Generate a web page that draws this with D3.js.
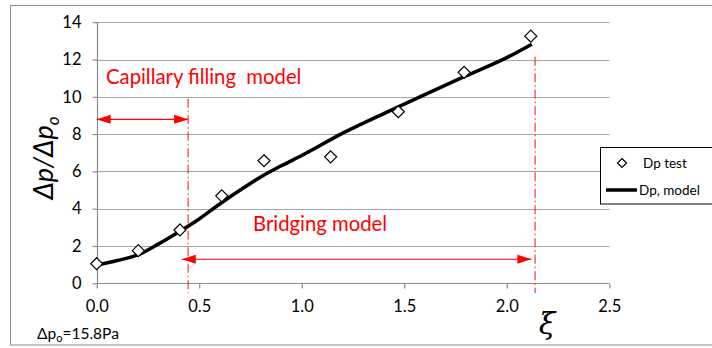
<!DOCTYPE html>
<html><head><meta charset="utf-8">
<script src="https://cdn.jsdelivr.net/npm/d3@7"></script>
<style>
html,body{margin:0;padding:0;background:#fff;}
svg{display:block;}
text{font-family:Lato,"Open Sans",sans-serif;}
</style>
</head><body>
<svg id="chart" width="712" height="348"></svg>
<script>
// ---- data ----
const testXi    = [0.0, 0.203, 0.406, 0.61, 0.816, 1.141, 1.471, 1.792, 2.117];
const testDp    = [1.05, 1.75, 2.86, 4.69, 6.57, 6.78, 9.2, 11.31, 13.25];
const modelXi   = [0.0, 0.1, 0.2, 0.3, 0.4, 0.5, 0.6, 0.7, 0.8, 0.9, 1.0, 1.2, 1.4, 1.6, 1.8, 2.0, 2.122];
const modelDp   = [0.98, 1.22, 1.52, 2.1, 2.75, 3.45, 4.25, 5.0, 5.7, 6.3, 6.85, 8.05, 9.1, 10.12, 11.12, 12.1, 12.82];
const xTicks    = [0.0, 0.5, 1.0, 1.5, 2.0, 2.5];
const yTicks    = [0, 2, 4, 6, 8, 10, 12, 14];
const legendLabels = ["Dp test", "Dp, model"];
// annotation: region boundaries (xi) and arrow levels
const boundaryXi   = [0.446, 2.138];
const boundaryTop  = [9.9, 12.15];
const capArrow     = {from: 0.0, to: 0.446, level: 8.79};
const bridgeArrow  = {from: 0.415, to: 2.12, level: 1.29};
const capLabel     = "Capillary filling  model";
const bridgeLabel  = "Bridging model";
const refNote      = "Δp";

// ---- layout ----
const svg = d3.select("#chart");
const x = d3.scaleLinear().domain([0, 2.5]).range([96.7, 609.3]);
const y = d3.scaleLinear().domain([0, 14]).range([283.3, 22.2]);

// outer border
svg.append("rect").attr("x", 10.5).attr("y", 5.5).attr("width", 760).attr("height", 339.5)
  .attr("fill", "none").attr("stroke", "#8c8c8c").attr("stroke-width", 1);

// gridlines
svg.append("g").selectAll("line").data(yTicks.filter(d => d > 0)).join("line")
  .attr("x1", x(0)).attr("x2", x(2.5))
  .attr("y1", d => Math.round(y(d)) + 0.5).attr("y2", d => Math.round(y(d)) + 0.5)
  .attr("stroke", "#a5a5a5").attr("stroke-width", 1.2);

// axes
const yAxis = d3.axisLeft(y).tickValues(yTicks).tickSize(5).tickPadding(11).tickFormat(d3.format("d"));
const gy = svg.append("g").attr("transform", `translate(${Math.round(x(0)) + 0.5},0)`).call(yAxis);
const xAxis = d3.axisBottom(x).tickValues(xTicks).tickSize(5).tickPadding(12).tickFormat(d3.format(".1f"));
const gx = svg.append("g").attr("transform", `translate(0,${Math.round(y(0)) + 0.5})`).call(xAxis);
[gx, gy].forEach(g => {
  g.select(".domain").attr("stroke", "#8c8c8c").attr("stroke-width", 1.2);
  g.selectAll(".tick line").attr("stroke", "#8c8c8c").attr("stroke-width", 1.2);
  g.selectAll(".tick text").attr("fill", "#000").style("font-size", "16.5px").style("font-family", "Lato, sans-serif");
});
gx.select(".domain").attr("d", `M${x(0)},0H${x(2.5)}`);
gy.select(".domain").attr("d", `M0,${y(14)}V${y(0)}`);

// red boundaries
svg.append("g").selectAll("line").data(boundaryXi).join("line")
  .attr("x1", d => x(d)).attr("x2", d => x(d))
  .attr("y1", (d, i) => y(boundaryTop[i])).attr("y2", y(-0.52))
  .attr("stroke", "#ff2020").attr("stroke-width", 1.1)
  .attr("stroke-dasharray", "9,3,1.5,3");

// arrow markers
const defs = svg.append("defs");
defs.append("marker").attr("id", "ah").attr("viewBox", "0 0 14 10")
  .attr("refX", 14).attr("refY", 5).attr("markerWidth", 14).attr("markerHeight", 10)
  .attr("markerUnits", "userSpaceOnUse").attr("orient", "auto-start-reverse")
  .append("path").attr("d", "M0,0.5 L14,5 L0,9.5 Z").attr("fill", "#ff0000");

[capArrow, bridgeArrow].forEach(a => {
  svg.append("line")
    .attr("x1", x(a.from)).attr("x2", x(a.to)).attr("y1", y(a.level)).attr("y2", y(a.level))
    .attr("stroke", "#ff0000").attr("stroke-width", 1.2)
    .attr("marker-start", "url(#ah)").attr("marker-end", "url(#ah)");
});

// annotation texts
svg.append("text").attr("x", 106).attr("y", 84).attr("fill", "#ff0000")
  .style("font-size", "20.3px").style("white-space", "pre").text(capLabel);
svg.append("text").attr("x", 253).attr("y", 231).attr("fill", "#ff0000")
  .style("font-size", "20.3px").text(bridgeLabel);

// model line
const model = modelXi.map((v, i) => [v, modelDp[i]]);
svg.append("path").datum(model)
  .attr("d", d3.line().x(d => x(d[0])).y(d => y(d[1])).curve(d3.curveMonotoneX))
  .attr("fill", "none").attr("stroke", "#000").attr("stroke-width", 3.5)
  .attr("stroke-linejoin", "round");

// test points
const diamond = "M0,-6L6,0L0,6L-6,0Z";
svg.append("g").selectAll("path").data(testXi.map((v, i) => [v, testDp[i]])).join("path")
  .attr("d", diamond)
  .attr("transform", d => `translate(${x(d[0])},${y(d[1])})`)
  .attr("fill", "#fff").attr("stroke", "#000").attr("stroke-width", 1.2);

// legend
const lg = svg.append("g");
lg.append("rect").attr("x", 600.5).attr("y", 147.5).attr("width", 140).attr("height", 56.5)
  .attr("fill", "#fff").attr("stroke", "#000").attr("stroke-width", 1);
lg.append("path").attr("d", "M0,-4.5L4.5,0L0,4.5L-4.5,0Z")
  .attr("transform", "translate(622,163)").attr("fill", "#fff").attr("stroke", "#000").attr("stroke-width", 1.2);
lg.append("line").attr("x1", 606).attr("x2", 637).attr("y1", 190).attr("y2", 190)
  .attr("stroke", "#000").attr("stroke-width", 3.5);
lg.append("text").attr("x", 643).attr("y", 168).style("font-size", "13.5px").text(legendLabels[0]);
lg.append("text").attr("x", 639).attr("y", 195).style("font-size", "13.5px").text(legendLabels[1]);

// axis titles
const yl = svg.append("text").attr("transform", "translate(53,158) rotate(-90)")
  .attr("text-anchor", "middle").style("font-size", "27px").style("font-style", "italic")
  .style("font-family", "Lato, sans-serif");
yl.append("tspan").text("Δp/Δp");
yl.append("tspan").attr("dy", 6).style("font-size", "17px").text("o");

svg.append("text").attr("x", 547).attr("y", 334).attr("text-anchor", "middle")
  .style("font-family", "'DejaVu Serif', serif").style("font-style", "italic")
  .style("font-size", "30px").text("ξ");

// reference pressure note
const nt = svg.append("text").attr("x", 37).attr("y", 339).style("font-size", "15.5px");
nt.append("tspan").text(refNote);
nt.append("tspan").attr("dy", 3).style("font-size", "11px").text("o");
nt.append("tspan").attr("dy", -3).text("=15.8Pa");
</script>
</body></html>
